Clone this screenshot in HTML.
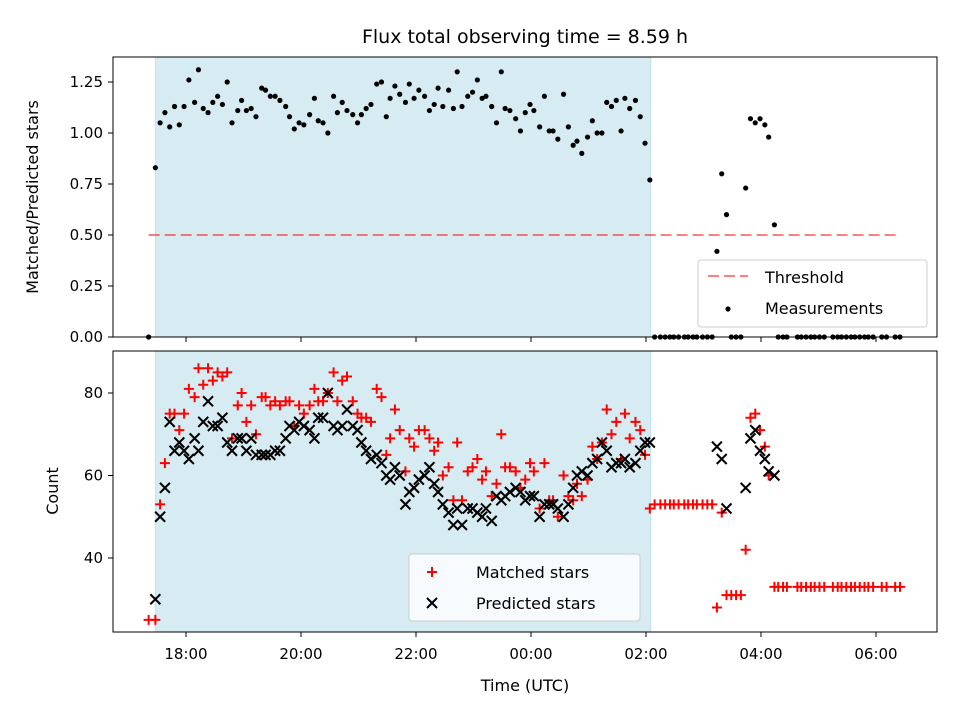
<!DOCTYPE html>
<html><head><meta charset="utf-8"><style>
body{margin:0;background:#fff;}
svg{display:block;font-family:"DejaVu Sans","Liberation Sans",sans-serif;}
</style></head><body>
<svg id="chart" width="960" height="720" viewBox="0 0 960 720" xmlns="http://www.w3.org/2000/svg">
<rect width="960" height="720" fill="#fff"/>
<text x="525" y="43" font-size="19" text-anchor="middle">Flux total observing time = 8.59 h</text>
<text transform="translate(38,197) rotate(-90)" font-size="16" text-anchor="middle">Matched/Predicted stars</text>
<text transform="translate(58,491) rotate(-90)" font-size="16" text-anchor="middle">Count</text>
<text x="525" y="691" font-size="16" text-anchor="middle">Time (UTC)</text>
<g id="g"></g>
</svg>
<script>
// times in minutes relative to 18:00 UTC
const tMain=[-32,-27,-22,-17,-12,-7,-2,3,9,13,18,23,28,33,38,43,48,54,58,63,68,73,79,83,88,93,98,104,108,113,118,123,129,134,138,143,148,154,158,163,168,174,179,183,188,193,199,204,209,213,218,223,229,233,238,243,249,254,259,263,268,274,279,283,288,294,299,304,309,313,319,324,329,333,338,344,349,354,359,363,369,374,379,383,388,394,399,404,408,413,419,424,429,434,439,444,449,454,458,463,469,474,479,484];
const ratioMain=[0.83,1.05,1.10,1.03,1.13,1.04,1.13,1.26,1.15,1.31,1.12,1.10,1.15,1.18,1.14,1.25,1.05,1.11,1.16,1.11,1.12,1.08,1.22,1.21,1.18,1.18,1.16,1.13,1.08,1.02,1.05,1.04,1.09,1.17,1.06,1.05,1.00,1.18,1.10,1.15,1.11,1.09,1.05,1.09,1.12,1.14,1.24,1.25,1.08,1.17,1.23,1.19,1.15,1.24,1.17,1.21,1.18,1.11,1.14,1.22,1.13,1.21,1.12,1.30,1.13,1.18,1.20,1.26,1.17,1.18,1.13,1.05,1.30,1.12,1.11,1.07,1.01,1.10,1.14,1.11,1.03,1.18,1.01,1.01,0.97,1.19,1.03,0.94,0.96,0.90,0.98,1.06,1.00,1.00,1.15,1.13,1.16,1.01,1.17,1.12,1.16,1.08,0.95,0.77];
const predMain=[30,50,57,73,66,68,66,64,69,66,73,78,72,72,74,68,66,69,69,66,69,65,65,65,65,66,66,69,72,71,73,72,71,69,74,74,80,72,71,72,76,72,71,68,66,64,65,63,60,59,62,60,53,56,57,59,60,62,58,56,53,51,48,52,48,52,52,51,50,52,49,55,54,55,56,57,56,54,55,55,50,53,53,53,52,50,53,57,60,61,60,63,64,68,66,62,63,63,64,62,63,66,68,68];
const matchMain=[25,53,63,75,75,71,75,81,79,86,82,86,83,85,84,85,69,77,80,73,77,70,79,79,77,78,77,78,78,72,77,75,77,81,78,78,80,85,78,83,84,78,75,74,74,73,81,79,65,69,76,71,61,69,67,71,71,69,66,68,60,62,54,68,54,61,62,64,59,61,55,58,70,62,62,61,57,59,63,61,52,63,54,54,50,60,55,54,58,55,59,67,64,68,76,70,73,64,75,69,73,71,65,52];
const tPost=[554,559,564,584,589,594,599,604,608,614];
const ratioPost=[0.42,0.80,0.60,0.73,1.07,1.05,1.07,1.04,0.98,0.55];
const predPost=[67,64,52,57,69,71,66,64,61,60];
const matchPost=[28,51,31,42,74,75,71,67,60,33];
const tZero=[-39,489,495,500,505,509,514,520,524,529,533,539,544,549,569,574,579,618,623,627,638,642,647,652,656,661,666,675,680,684,689,694,698,703,708,712,717,726,731,740,745];
const matchZero=[25,53,53,53,53,53,53,53,53,53,53,53,53,53,31,31,31,33,33,33,33,33,33,33,33,33,33,33,33,33,33,33,33,33,33,33,33,33,33,33,33];
const topTicks=[0,0.25,0.5,0.75,1.0,1.25];
const botTicks=[40,60,80];
const xTicks=[0,120,240,360,480,600,720];
const xTickLabels=["18:00","20:00","22:00","00:00","02:00","04:00","06:00"];
const spanStart=-32, spanEnd=485, threshold=0.5;

const NS="http://www.w3.org/2000/svg";
const g=document.getElementById('g');
const X=t=>186+t/60*57.5;
const YT=v=>337-v*204;
const YB=v=>393-(v-80)*4.125;
function el(tag,a,parent){const e=document.createElementNS(NS,tag);for(const k in a)e.setAttribute(k,a[k]);(parent||g).appendChild(e);return e;}

[[57,280],[351,281]].forEach(([y,h],i)=>{
  const r=el('rect',{x:X(spanStart),y:y,width:X(spanEnd)-X(spanStart),height:h,fill:'#add8e6','fill-opacity':0.5,stroke:'#add8e6','stroke-opacity':0.6});
  
  
});
const th=el('line',{x1:X(-39),x2:X(745),y1:YT(threshold),y2:YT(threshold),stroke:'#ff0000','stroke-opacity':0.5,'stroke-width':2,'stroke-dasharray':'11,5'});



function dot(t,v){const c=el('circle',{cx:X(t),cy:YT(v),r:2.6,fill:'#000'});

}
tMain.forEach((t,i)=>dot(t,ratioMain[i]));
tPost.forEach((t,i)=>dot(t,ratioPost[i]));
tZero.forEach(t=>dot(t,0));

function plus(t,v){const x=X(t),y=YB(v);const p=el('path',{d:`M${x-5},${y}H${x+5}M${x},${y-5}V${y+5}`,stroke:'#ff0000','stroke-width':2});

}
function cross(t,v){const x=X(t),y=YB(v);const p=el('path',{d:`M${x-5},${y-5}L${x+5},${y+5}M${x-5},${y+5}L${x+5},${y-5}`,stroke:'#000','stroke-width':2});

}
tMain.forEach((t,i)=>plus(t,matchMain[i]));
tPost.forEach((t,i)=>plus(t,matchPost[i]));
tZero.forEach((t,i)=>plus(t,matchZero[i]));
tMain.forEach((t,i)=>cross(t,predMain[i]));
tPost.forEach((t,i)=>cross(t,predPost[i]));

[[57,280,'top-axes-frame'],[351,281,'bottom-axes-frame']].forEach(([y,h,n])=>{
  const r=el('rect',{x:113,y:y,width:824,height:h,fill:'none',stroke:'#000','stroke-width':1});
  
  
});
topTicks.forEach(v=>{const y=YT(v);el('line',{x1:108,x2:113,y1:y,y2:y,stroke:'#000'});
const tx=el('text',{x:103,y:y+5,'font-size':15,'text-anchor':'end'});tx.textContent=v.toFixed(2);

});
botTicks.forEach(v=>{const y=YB(v);el('line',{x1:108,x2:113,y1:y,y2:y,stroke:'#000'});
const tx=el('text',{x:103,y:y+5,'font-size':15,'text-anchor':'end'});tx.textContent=String(v);

});
xTicks.forEach((t,i)=>{const x=X(t);
el('line',{x1:x,x2:x,y1:337,y2:342,stroke:'#000'});
el('line',{x1:x,x2:x,y1:632,y2:637,stroke:'#000'});
const tx=el('text',{x:x,y:659,'font-size':15,'text-anchor':'middle'});tx.textContent=xTickLabels[i];

});

function legendBox(x,y,w,h,name){const r=el('rect',{x:x,y:y,width:w,height:h,rx:3,fill:'#fff','fill-opacity':0.8,stroke:'#ccc'});

}
legendBox(698,260,229,67,'top-legend');
el('line',{x1:708,x2:748,y1:276,y2:276,stroke:'#ff0000','stroke-opacity':0.5,'stroke-width':2,'stroke-dasharray':'11,5'});
let t1=el('text',{x:765,y:283,'font-size':16});t1.textContent='Threshold';


el('circle',{cx:728,cy:309,r:2.6,fill:'#000'});
let t2=el('text',{x:765,y:314,'font-size':16});t2.textContent='Measurements';


legendBox(409,554,231,67,'bottom-legend');
el('path',{d:'M427,572H437M432,567V577',stroke:'#ff0000','stroke-width':2});
let t3=el('text',{x:476,y:578,'font-size':16});t3.textContent='Matched stars';


el('path',{d:'M427,598L437,608M427,608L437,598',stroke:'#000','stroke-width':2});
let t4=el('text',{x:476,y:609,'font-size':16});t4.textContent='Predicted stars';


</script>
</body></html>
